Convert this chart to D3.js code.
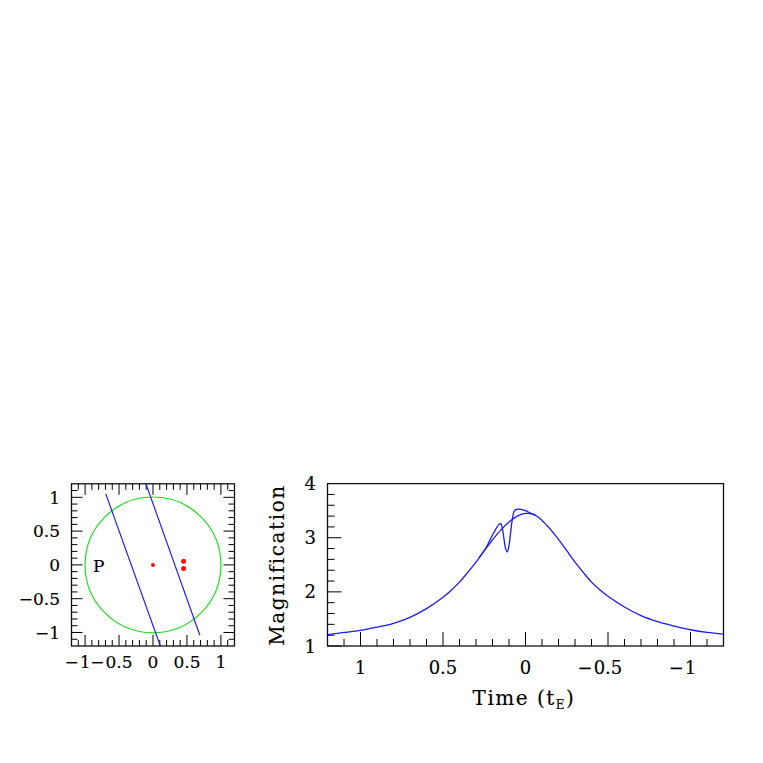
<!DOCTYPE html>
<html><head><meta charset="utf-8">
<script src="https://cdn.jsdelivr.net/npm/d3@7"></script>
<style>
html,body{margin:0;padding:0;background:#fff;}
text{font-family:"DejaVu Serif",serif;fill:#000;stroke:#000;stroke-width:0.15px;}
</style></head>
<body>
<svg id="chart" width="763" height="763"></svg>
<script>
// ---- Data ----
// Left panel: source plane
const circleRadius = [1];
const lensX = [0, 0.45, 0.45];
const lensY = [0, 0.055, -0.055];
const lensR = [2, 2.5, 2.5];
const traj1X = [-0.695, 0.108];
const traj1Y = [1.05, -1.2];
const traj2X = [-0.104, 0.69];
const traj2Y = [1.2, -1.04];
const leftTicks = [-1, -0.5, 0, 0.5, 1];
const leftTickLabels = ["1", "0.5", "0", "0.5", "1"];
const leftTickNeg = [true, true, false, false, false];
const pointLabel = ["P"];

// Right panel: light curve
const timeSmooth = [1.2,1.1,1.0,0.9,0.8,0.7,0.6,0.5,0.45,0.4,0.35,0.3,0.25,0.2,0.15,0.1,0.05,0,-0.05,-0.1,-0.15,-0.2,-0.25,-0.3,-0.35,-0.4,-0.45,-0.5,-0.6,-0.7,-0.8,-0.9,-1.0,-1.1,-1.2];
const magSmooth = [1.21,1.25,1.29,1.35,1.42,1.53,1.69,1.90,2.03,2.18,2.36,2.55,2.76,2.96,3.14,3.29,3.40,3.45,3.43,3.32,3.16,2.97,2.76,2.55,2.36,2.18,2.04,1.92,1.72,1.56,1.45,1.37,1.30,1.25,1.22];
const timePert = [0.28,0.26,0.24,0.22,0.20,0.18,0.16,0.15,0.14,0.13,0.12,0.11,0.10,0.09,0.08,0.07,0.06,0.04,0.02,0,-0.02,-0.04,-0.06];
const magPert = [2.64,2.72,2.81,2.93,3.05,3.16,3.25,3.26,3.17,2.97,2.79,2.74,2.86,3.10,3.34,3.48,3.52,3.53,3.52,3.50,3.47,3.44,3.41];
const timeTicks = [1, 0.5, 0, -0.5, -1];
const timeTickLabels = ["1", "0.5", "0", "0.5", "1"];
const timeTickNeg = [false, false, false, true, true];
const magTicks = [1, 2, 3, 4];
const magTickLabels = ["1", "2", "3", "4"];

const svg = d3.select("#chart");
const TICKFONT = 17;

// ---------- Left panel ----------
const L = {x0: 71.5, x1: 234.5, y0: 483.8, y1: 646};
const lx = d3.scaleLinear().domain([-1.2, 1.2]).range([L.x0, L.x1]);
const ly = d3.scaleLinear().domain([-1.2, 1.2]).range([L.y1, L.y0]);
const gL = svg.append("g");
gL.append("defs").append("clipPath").attr("id", "clipL")
  .append("rect").attr("x", L.x0).attr("y", L.y0).attr("width", L.x1 - L.x0).attr("height", L.y1 - L.y0);

const lMinor = d3.range(-11, 12).map(d => d / 10);
const lMaj = 11, lMin = 6;
lMinor.forEach(v => {
  const isMaj = Math.abs(v * 2 - Math.round(v * 2)) < 1e-6;
  const len = isMaj ? lMaj : lMin;
  const px = lx(v), py = ly(v);
  gL.append("line").attr("x1", px).attr("x2", px).attr("y1", L.y1).attr("y2", L.y1 - len).attr("stroke", "#000").attr("stroke-width", 1);
  gL.append("line").attr("x1", px).attr("x2", px).attr("y1", L.y0).attr("y2", L.y0 + len).attr("stroke", "#000").attr("stroke-width", 1);
  gL.append("line").attr("y1", py).attr("y2", py).attr("x1", L.x0).attr("x2", L.x0 + len).attr("stroke", "#000").attr("stroke-width", 1);
  gL.append("line").attr("y1", py).attr("y2", py).attr("x1", L.x1).attr("x2", L.x1 - len).attr("stroke", "#000").attr("stroke-width", 1);
});

const plotL = gL.append("g").attr("clip-path", "url(#clipL)");
plotL.append("circle").attr("cx", lx(0)).attr("cy", ly(0))
  .attr("r", lx(circleRadius[0]) - lx(0))
  .attr("fill", "none").attr("stroke", "#1ee01e").attr("stroke-width", 1.2);
const lineL = d3.line().x(d => lx(d[0])).y(d => ly(d[1]));
plotL.append("path").attr("d", lineL(d3.zip(traj1X, traj1Y))).attr("fill", "none").attr("stroke", "#1a1aff").attr("stroke-width", 1.15);
plotL.append("path").attr("d", lineL(d3.zip(traj2X, traj2Y))).attr("fill", "none").attr("stroke", "#1a1aff").attr("stroke-width", 1.15);
plotL.selectAll("circle.lens").data(d3.zip(lensX, lensY, lensR)).enter().append("circle")
  .attr("class", "lens").attr("cx", d => lx(d[0])).attr("cy", d => ly(d[1])).attr("r", d => d[2]).attr("fill", "#ff1010");
gL.append("text").attr("x", lx(-0.8)).attr("y", ly(0) + 6.8).attr("text-anchor", "middle")
  .attr("font-size", 17).text(pointLabel[0]);

gL.append("rect").attr("x", L.x0).attr("y", L.y0).attr("width", L.x1 - L.x0).attr("height", L.y1 - L.y0)
  .attr("fill", "none").attr("stroke", "#111").attr("stroke-width", 1.3);

leftTicks.forEach((v, i) => {
  const t = gL.append("text").attr("x", lx(v)).attr("y", 668).attr("text-anchor", "middle").attr("font-size", TICKFONT).text(leftTickLabels[i]);
  if (leftTickNeg[i]) {
    const w = t.node().getComputedTextLength();
    gL.append("text").attr("x", lx(v) - w / 2 - 1).attr("y", 668).attr("text-anchor", "end").attr("font-size", TICKFONT).text("\u2212");
  }
  gL.append("text").attr("x", 60).attr("y", ly(v) + 6.3).attr("text-anchor", "end").attr("font-size", TICKFONT)
    .text((leftTickNeg[i] ? "\u2212" : "") + leftTickLabels[i]);
});

// ---------- Right panel ----------
const R = {x0: 327.5, x1: 723.5, y0: 483.6, y1: 646};
const rx = d3.scaleLinear().domain([1.2, -1.2]).range([R.x0, R.x1]);
const ry = d3.scaleLinear().domain([1, 4]).range([R.y1, R.y0]);
const gR = svg.append("g");
gR.append("defs").append("clipPath").attr("id", "clipR")
  .append("rect").attr("x", R.x0).attr("y", R.y0).attr("width", R.x1 - R.x0).attr("height", R.y1 - R.y0);

const rMinorX = d3.range(-11, 12).map(d => d / 10);
rMinorX.forEach(v => {
  const isMaj = Math.abs(v * 2 - Math.round(v * 2)) < 1e-6;
  const len = isMaj ? 14 : 7;
  gR.append("line").attr("x1", rx(v)).attr("x2", rx(v)).attr("y1", R.y1).attr("y2", R.y1 - len).attr("stroke", "#000").attr("stroke-width", 1);
});
const rMinorY = d3.range(5, 20).map(d => d / 5);
rMinorY.forEach(v => {
  const isMaj = Math.abs(v - Math.round(v)) < 1e-6;
  const len = isMaj ? 14 : 7;
  gR.append("line").attr("y1", ry(v)).attr("y2", ry(v)).attr("x1", R.x0).attr("x2", R.x0 + len).attr("stroke", "#000").attr("stroke-width", 1);
});

const plotR = gR.append("g").attr("clip-path", "url(#clipR)");
const lineR = d3.line().x(d => rx(d[0])).y(d => ry(d[1])).curve(d3.curveCatmullRom.alpha(0.5));
plotR.append("path").attr("d", lineR(d3.zip(timeSmooth, magSmooth))).attr("fill", "none").attr("stroke", "#1a1aff").attr("stroke-width", 1.3);
plotR.append("path").attr("d", lineR(d3.zip(timePert, magPert))).attr("fill", "none").attr("stroke", "#1a1aff").attr("stroke-width", 1.3);

gR.append("rect").attr("x", R.x0).attr("y", R.y0).attr("width", R.x1 - R.x0).attr("height", R.y1 - R.y0)
  .attr("fill", "none").attr("stroke", "#111").attr("stroke-width", 1.3);

timeTicks.forEach((v, i) => {
  const t = gR.append("text").attr("x", rx(v)).attr("y", 674).attr("text-anchor", "middle").attr("font-size", 18).text(timeTickLabels[i]);
  if (timeTickNeg[i]) {
    const w = t.node().getComputedTextLength();
    gR.append("text").attr("x", rx(v) - w / 2 - 1).attr("y", 674).attr("text-anchor", "end").attr("font-size", 18).text("\u2212");
  }
});
magTicks.forEach((v, i) => {
  gR.append("text").attr("x", 316).attr("y", ry(v) + 6.5).attr("text-anchor", "end").attr("font-size", 18).text(magTickLabels[i]);
});

gR.append("text").attr("transform", "translate(284,565) rotate(-90)").attr("text-anchor", "middle")
  .attr("font-size", 20).attr("letter-spacing", 1.6).text("Magnification");
const tt = gR.append("text").attr("x", 524).attr("y", 705).attr("text-anchor", "middle").attr("font-size", 20).attr("letter-spacing", 1.5);
tt.append("tspan").text("Time (t");
tt.append("tspan").attr("font-size", 12).attr("dy", 4).text("E");
tt.append("tspan").attr("dy", -4).text(")");
</script>
</body></html>
